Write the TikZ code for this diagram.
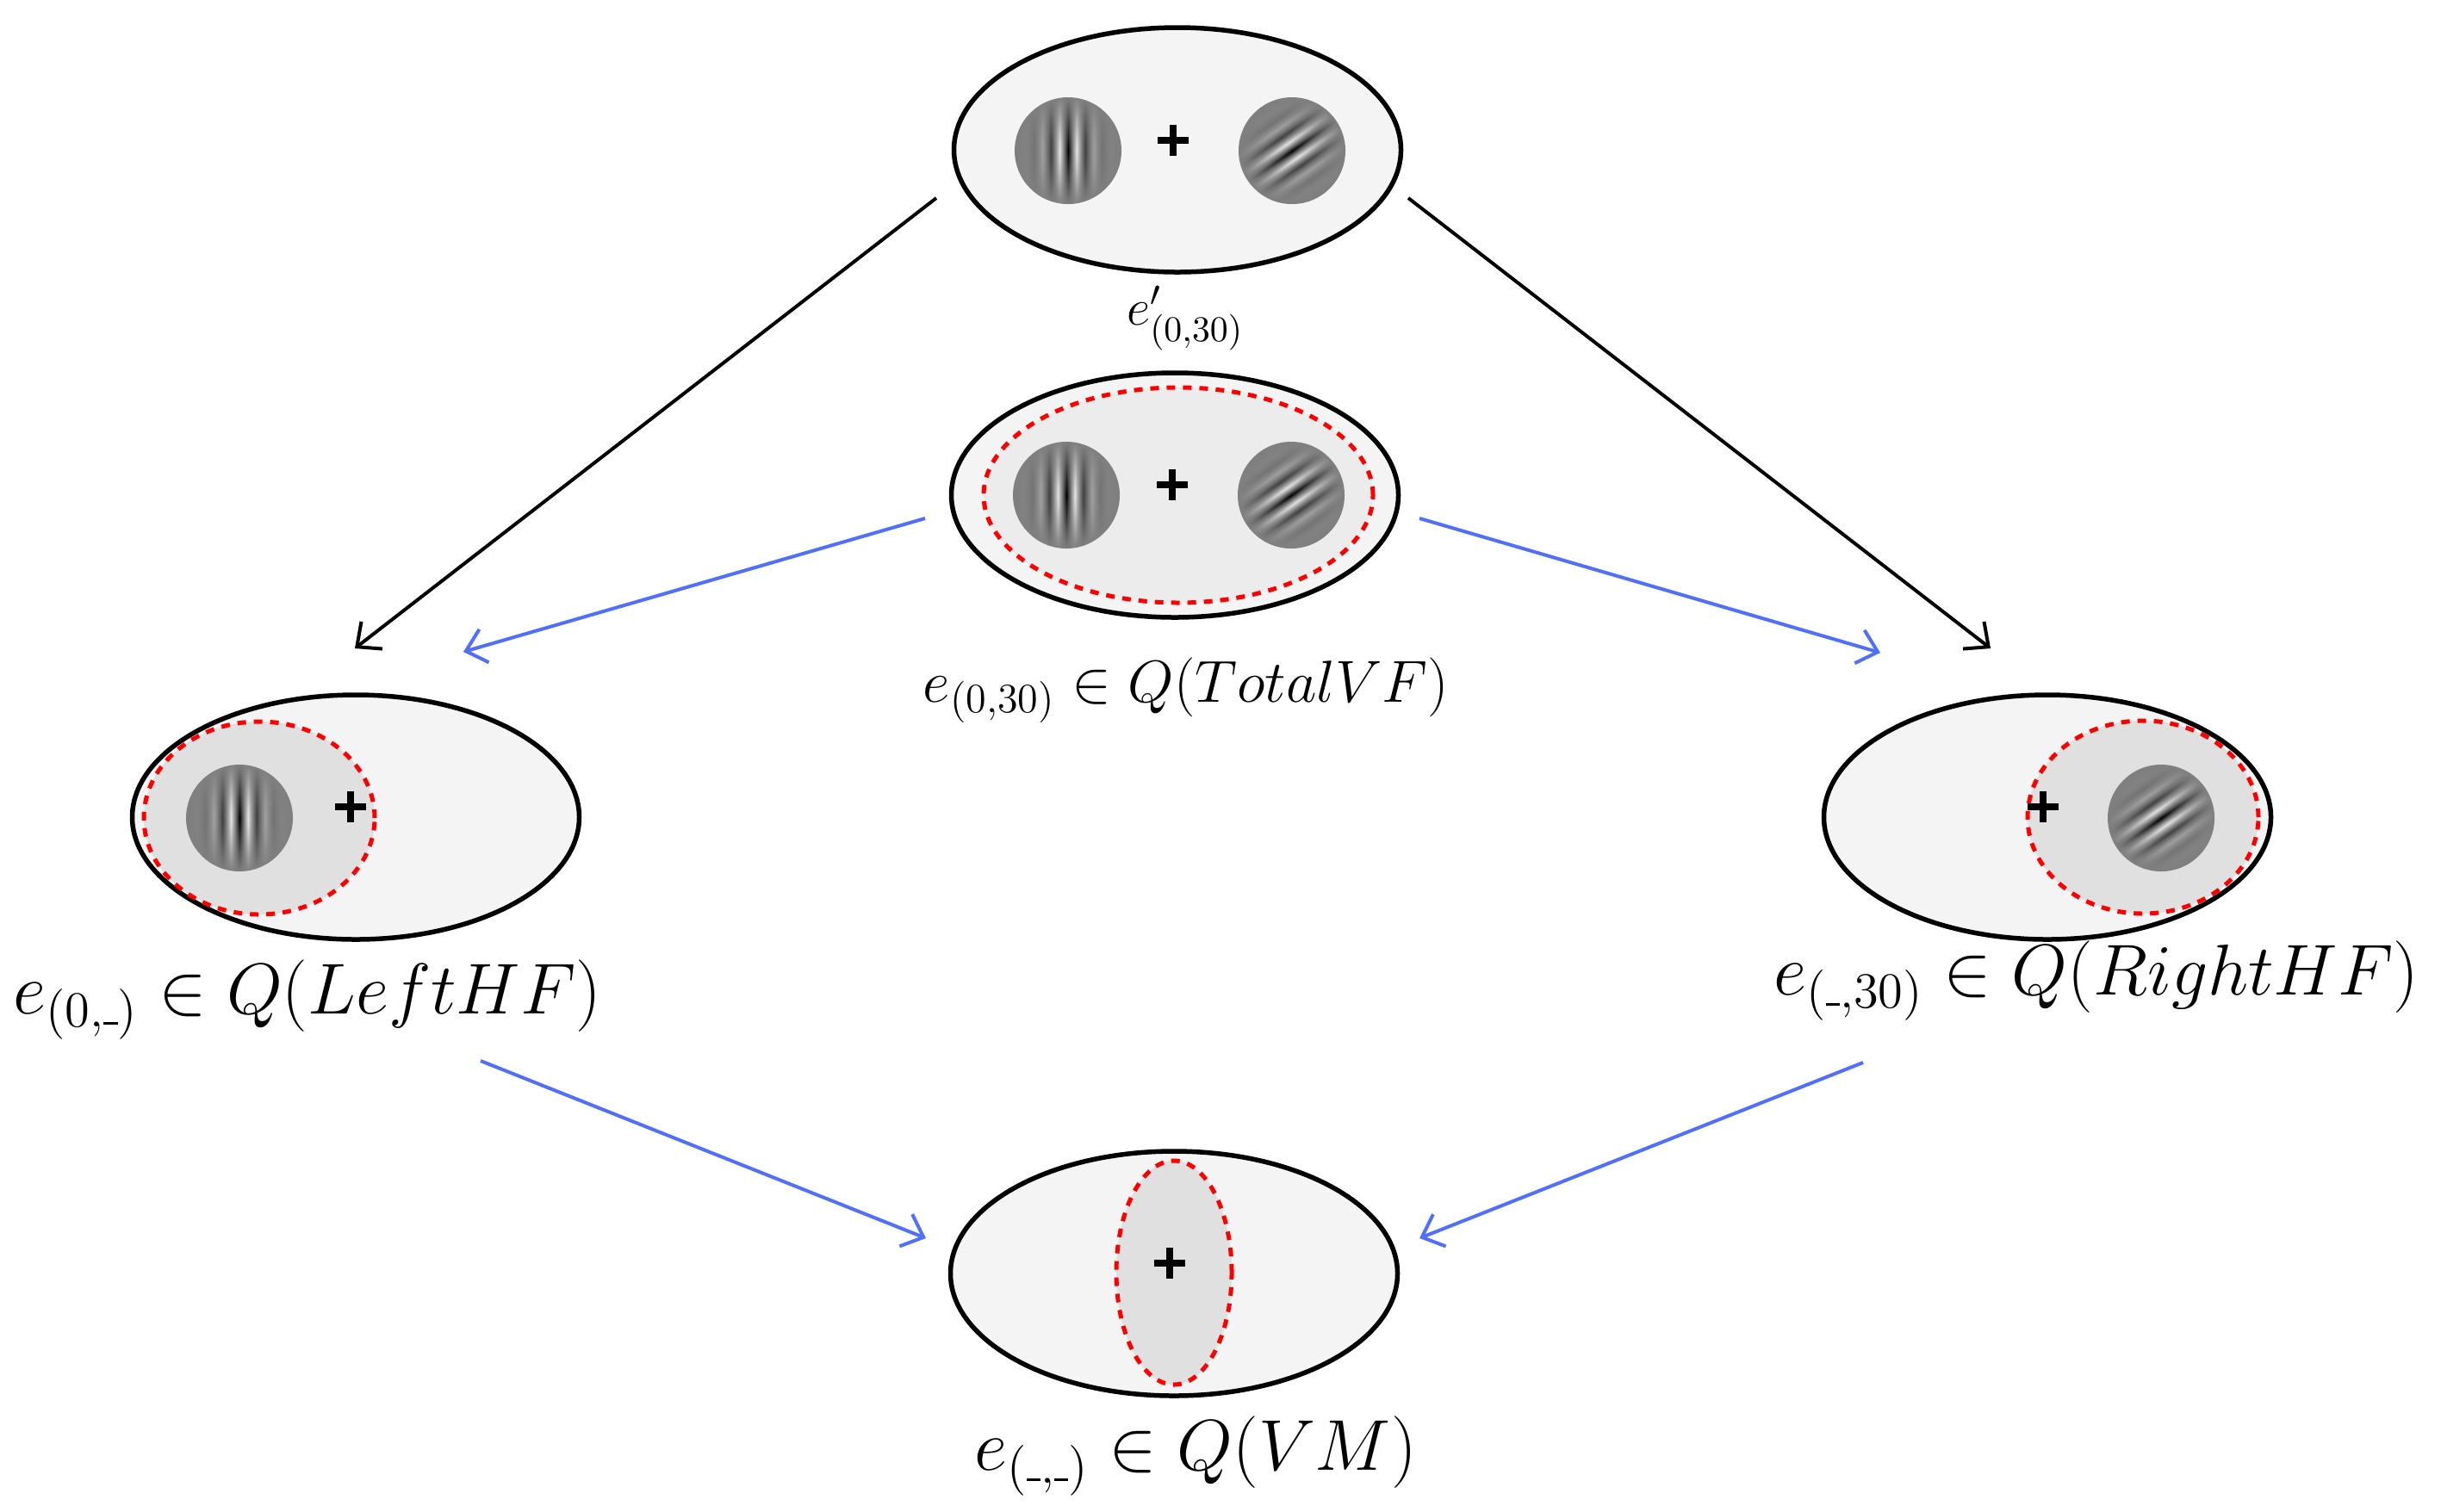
\RequirePackage{fix-cm}
\documentclass[tikz,border=0pt]{standalone}
\usepackage{amsmath}
\usepackage{xcolor}
\usetikzlibrary{shapes.geometric,arrows.meta,fadings,positioning}

\definecolor{outerfill}{RGB}{244,244,244}
\definecolor{innerfill}{RGB}{224,224,224}
\definecolor{midfill}{RGB}{236,236,236}
\definecolor{gaborgray}{gray}{0.5}
\definecolor{arrowblue}{RGB}{80,112,250}
\definecolor{gk0}{gray}{0}
\definecolor{gk1}{gray}{0.96}
\definecolor{gk2}{gray}{0.14}
\definecolor{gk3}{gray}{0.74}
\definecolor{gk4}{gray}{0.37}
\definecolor{gk5}{gray}{0.56}
\definecolor{gk6}{gray}{0.47}

% short low dash for an empty slot
\newcommand{\blank}{\text{\rule[0.03em]{0.28em}{0.06em}}}

% stripes of a patch, with the envelope across them
\pgfdeclarehorizontalshading{gaborstripes}{100bp}{color(0bp)=(gaborgray); color(22bp)=(gaborgray);
  color(26bp)=(gk6); color(30bp)=(gk5); color(34bp)=(gk4); color(38bp)=(gk3); color(42bp)=(gk2);
  color(46bp)=(gk1); color(50bp)=(gk0); color(54bp)=(gk1); color(58bp)=(gk2); color(62bp)=(gk3);
  color(66bp)=(gk4); color(70bp)=(gk5); color(74bp)=(gk6);
  color(78bp)=(gaborgray); color(100bp)=(gaborgray)}
\tikzfading[name=gabfade, inner color=transparent!0, outer color=transparent!100]

\tikzset{
  field/.style={ellipse, draw=black, line width=0.55mm, fill=outerfill,
    minimum width=51.9mm, minimum height=28.4mm, inner sep=0pt},
  region/.style={ellipse, draw=red, line width=0.5mm, dash pattern=on 1mm off 0.9mm,
    fill=innerfill, inner sep=0pt},
  blackarrow/.style={-{Straight Barb[length=2.2mm,width=4mm]}, line width=0.4mm},
  bluearrow/.style={blackarrow, draw=arrowblue},
  lbl/.style={anchor=base, inner sep=0pt},
  fixcross/.pic={\draw[line width=0.8mm] (-1.8,0) -- (1.8,0) (0,-1.8) -- (0,1.8);}
}

% a grating patch: position, rotation of the stripes
\newcommand{\gaborpatch}[2]{%
  \fill[gaborgray] #1 circle (6.2);
  \begin{scope}[transform canvas={shift={#1},rotate=#2}]
    \shade[shading=gaborstripes, path fading=gabfade] (0,0) circle (6.2);
  \end{scope}}

\begin{document}
\begin{tikzpicture}[x=1mm,y=-1mm]
\useasboundingbox[fill=white] (0,0) rectangle (283.4,175.5);

% top: both patches shown
\node[field] (top) at (136.7,17.4) {};
\gaborpatch{(124.0,17.5)}{0}
\gaborpatch{(150.0,17.5)}{-55}
\pic at (136.2,16.3) {fixcross};
\node[lbl, font=\fontsize{17}{20}\selectfont] (toplbl) at (137.6,37.7) {$e'_{(0,30)}$};

% middle: both patches inside the region
\node[field] (mid) at (136.4,57.5) {};
\node[region, fill=midfill, minimum width=45.2mm, minimum height=25mm] (midreg) at (136.8,57.5) {};
\gaborpatch{(123.8,57.5)}{0}
\gaborpatch{(149.9,57.5)}{-55}
\pic at (136.1,56.3) {fixcross};
\node[lbl, font=\fontsize{19.6}{23}\selectfont] (midlbl) at (137.7,81.5) {$e_{(0,30)} \in Q(TotalVF)$};

% left: left half field
\node[field] (left) at (41.3,94.9) {};
\node[region, minimum width=26.8mm, minimum height=22.4mm] (leftreg) at (30.1,95.0) {};
\gaborpatch{(27.8,95.0)}{0}
\pic at (40.7,93.7) {fixcross};
\node[lbl, font=\fontsize{23.8}{28}\selectfont] (leftlbl) at (35.7,117.7) {$e_{(0,\blank)} \in Q(LeftHF)$};

% right: right half field
\node[field] (right) at (237.7,94.9) {};
\node[region, minimum width=26.8mm, minimum height=22.4mm] (rightreg) at (248.8,94.9) {};
\gaborpatch{(250.9,95.0)}{-55}
\pic at (237.2,93.7) {fixcross};
\node[lbl, font=\fontsize{23.8}{28}\selectfont] (rightlbl) at (243.4,115.5) {$e_{(\blank,30)} \in Q(RightHF)$};

% bottom: vertical meridian
\node[field] (bot) at (136.3,147.9) {};
\node[region, minimum width=13.4mm, minimum height=26mm] (botreg) at (136.3,147.8) {};
\pic at (135.8,146.7) {fixcross};
\node[lbl, font=\fontsize{23.8}{28}\selectfont] (botlbl) at (138.8,170.7) {$e_{(\blank,\blank)} \in Q(VM)$};

% arrow ends
\coordinate (blkL0) at (108.7,23.0);
\coordinate (blkL1) at (41.2,75.3);
\coordinate (blkR0) at (163.5,23.0);
\coordinate (blkR1) at (231.1,75.3);
\coordinate (bluML0) at (107.4,60.2);
\coordinate (bluML1) at (53.8,75.7);
\coordinate (bluMR0) at (164.8,60.2);
\coordinate (bluMR1) at (218.3,75.8);
\coordinate (bluLB0) at (55.8,123.2);
\coordinate (bluLB1) at (107.5,143.8);
\coordinate (bluRB0) at (216.3,123.4);
\coordinate (bluRB1) at (164.8,143.8);

\draw[blackarrow] (blkL0) -- (blkL1);
\draw[blackarrow] (blkR0) -- (blkR1);
\draw[bluearrow] (bluML0) -- (bluML1);
\draw[bluearrow] (bluMR0) -- (bluMR1);
\draw[bluearrow] (bluLB0) -- (bluLB1);
\draw[bluearrow] (bluRB0) -- (bluRB1);
\end{tikzpicture}
\end{document}
